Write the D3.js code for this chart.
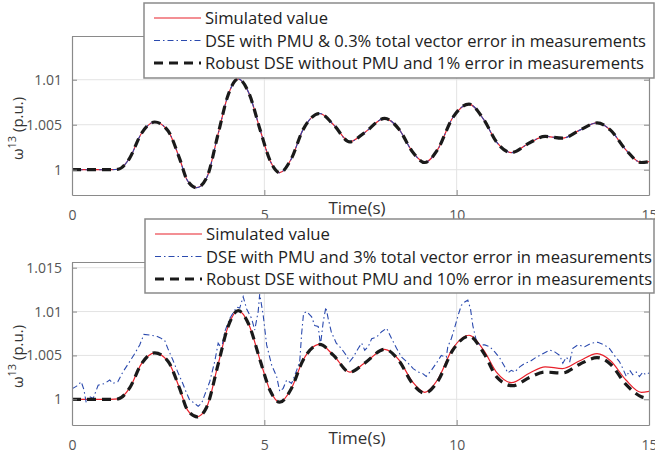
<!DOCTYPE html>
<html>
<head>
<meta charset="utf-8">
<script src="https://cdn.jsdelivr.net/npm/d3@7"></script>
<style>
  body { margin: 0; background: #fff; }
  text { font-family: "Open Sans", "Noto Sans", sans-serif; }
</style>
</head>
<body>
<svg id="chart" width="655" height="457"></svg>
<script>
// simulated rotor speed of generator 13 (same in both panels)
const simulated = [
  [0, 1.0], [0.5, 1.0], [1.0, 1.0], [1.2, 1.00005], [1.5, 1.0013], [1.8, 1.004],
  [2.15, 1.0053], [2.5, 1.0043], [2.8, 1.0012], [3.0, 0.9988], [3.24, 0.998],
  [3.5, 0.9991], [3.8, 1.004], [4.05, 1.0082], [4.32, 1.0101], [4.6, 1.0085],
  [4.9, 1.0043], [5.15, 1.001], [5.4, 0.99967], [5.7, 1.0012], [6.0, 1.0044],
  [6.44, 1.00625], [6.8, 1.005], [7.22, 1.0031], [7.6, 1.0041], [8.13, 1.0057],
  [8.5, 1.0045], [8.85, 1.002], [9.17, 1.0008], [9.5, 1.0022], [9.9, 1.0058],
  [10.32, 1.0073], [10.7, 1.0056], [11.05, 1.003], [11.42, 1.0019], [11.9, 1.003],
  [12.3, 1.0037], [12.75, 1.0035], [13.2, 1.0044], [13.65, 1.0052], [14.0, 1.0044],
  [14.4, 1.0022], [14.8, 1.0008], [15, 1.0009]
];

// top panel estimates follow the simulated curve
const dsePmuTop = simulated.map(d => [d[0], d[1]]);
const robustTop = simulated.map(d => [d[0], d[1]]);

// bottom panel: DSE with PMU and 3% TVE
const dsePmuBottom = [
  [0, 1.0012], [0.12, 1.0015], [0.24, 1.002], [0.31, 1.0011], [0.37, 0.9996], [0.46, 1.0003],
  [0.55, 1.0001], [0.68, 1.0016], [0.85, 1.0018], [0.98, 1.0022], [1.06, 1.0018], [1.19, 1.002],
  [1.32, 1.0031], [1.5, 1.0043], [1.63, 1.0052], [1.76, 1.0062], [1.87, 1.0074], [2.06, 1.0073],
  [2.19, 1.0072], [2.3, 1.007], [2.41, 1.0067], [2.49, 1.0058], [2.62, 1.0045], [2.75, 1.0031],
  [2.88, 1.0018], [2.97, 1.0008], [3.06, 0.9999], [3.17, 0.9996], [3.28, 0.9992], [3.37, 0.99955],
  [3.45, 1.0005], [3.58, 1.002], [3.71, 1.0043], [3.8, 1.0064], [3.89, 1.0058], [3.97, 1.0077],
  [4.1, 1.0092], [4.28, 1.0105], [4.36, 1.0104], [4.45, 1.0117], [4.54, 1.0103], [4.67, 1.0092],
  [4.75, 1.0079], [4.84, 1.01], [4.88, 1.012], [4.97, 1.0096], [5.06, 1.0062], [5.19, 1.0039],
  [5.32, 1.0026], [5.4, 1.0009], [5.49, 1.00125], [5.58, 1.0022], [5.71, 1.0018], [5.84, 1.0033],
  [5.92, 1.0043], [5.97, 1.0075], [6.02, 1.0098], [6.1, 1.01], [6.23, 1.0094], [6.31, 1.0084],
  [6.4, 1.0083], [6.46, 1.0062], [6.53, 1.0088], [6.6, 1.0105], [6.66, 1.0092], [6.74, 1.0077],
  [6.87, 1.0064], [7.0, 1.0058], [7.13, 1.005], [7.22, 1.0043], [7.31, 1.0048], [7.44, 1.0058],
  [7.53, 1.0064], [7.61, 1.0056], [7.7, 1.006], [7.79, 1.0069], [7.92, 1.0071], [8.05, 1.0077],
  [8.18, 1.0081], [8.31, 1.0069], [8.44, 1.0058], [8.57, 1.0048], [8.7, 1.0043], [8.87, 1.0035],
  [9.0, 1.0031], [9.1, 1.003], [9.21, 1.0026], [9.34, 1.0033], [9.47, 1.0041], [9.6, 1.005],
  [9.73, 1.0048], [9.77, 1.006], [9.86, 1.0069], [9.95, 1.0082], [10.04, 1.0096], [10.12, 1.0107],
  [10.21, 1.0111], [10.29, 1.0113], [10.36, 1.0103], [10.42, 1.0084], [10.51, 1.0067], [10.6, 1.0062],
  [10.73, 1.0062], [10.86, 1.006], [10.99, 1.0054], [11.12, 1.0047], [11.25, 1.0037], [11.33, 1.003],
  [11.42, 1.0033], [11.51, 1.0031], [11.64, 1.0037], [11.77, 1.0041], [11.9, 1.0043], [12.07, 1.0048],
  [12.24, 1.0052], [12.42, 1.0056], [12.55, 1.0054], [12.68, 1.005], [12.76, 1.0041], [12.85, 1.0048],
  [12.94, 1.0043], [13.02, 1.0058], [13.15, 1.0062], [13.33, 1.006], [13.5, 1.0064], [13.67, 1.0065],
  [13.84, 1.0062], [13.97, 1.0058], [14.1, 1.005], [14.23, 1.0043], [14.32, 1.0035], [14.41, 1.0026],
  [14.5, 1.0033], [14.58, 1.0028], [14.67, 1.0031], [14.75, 1.0026], [14.84, 1.0031], [14.91, 1.0028],
  [15, 1.003]
];

// bottom panel: robust DSE without PMU, 10% error
const robustBottom = [
  [0, 1.0], [0.5, 1.0], [1.0, 1.0], [1.2, 1.00005], [1.5, 1.0013], [1.8, 1.004],
  [2.15, 1.0053], [2.5, 1.0043], [2.8, 1.0012], [3.0, 0.9988], [3.26, 0.998],
  [3.5, 0.9991], [3.8, 1.004], [4.05, 1.0082], [4.32, 1.0101], [4.6, 1.0085],
  [4.9, 1.0043], [5.15, 1.001], [5.4, 0.99967], [5.7, 1.0012], [6.0, 1.0044],
  [6.44, 1.00625], [6.8, 1.005], [7.22, 1.0031], [7.6, 1.0041], [8.13, 1.0057],
  [8.5, 1.0044], [8.85, 1.0018], [9.17, 1.0007], [9.5, 1.002], [9.9, 1.0056],
  [10.32, 1.0072], [10.7, 1.0053], [11.05, 1.0025], [11.45, 1.00155], [11.9, 1.0025],
  [12.3, 1.0031], [12.75, 1.003], [13.2, 1.004], [13.65, 1.00475], [14.0, 1.004],
  [14.4, 1.0017], [14.8, 1.0003], [15, 1.0001]
];

const xTicks = [0, 5, 10, 15];
const topYTicks = [1, 1.005, 1.01];
const bottomYTicks = [1, 1.005, 1.01, 1.015];
const topLegend = [
  "Simulated value",
  "DSE with PMU & 0.3% total vector error in measurements",
  "Robust DSE without PMU and 1% error in measurements"
];
const bottomLegend = [
  "Simulated value",
  "DSE with PMU and 3% total vector error in measurements",
  "Robust DSE without PMU and 10% error in measurements"
];

const svg = d3.select("#chart");
const left = 72, right = 649;
const x = d3.scaleLinear().domain([0, 15]).range([left, right]);

const styles = [
  { color: "#e8202a", width: 1.2, dash: null },
  { color: "#2b4aae", width: 1.1, dash: "6,3,1.5,3" },
  { color: "#1a1a1a", width: 3.2, dash: "9,6" }
];

function drawPanel(id, top, bottom, yDomain, yTicks, series, curves, legend, box) {
  const y = d3.scaleLinear().domain(yDomain).range([bottom, top]);
  const g = svg.append("g");

  // grid
  g.selectAll(".gx").data(xTicks.slice(1, -1)).join("line")
    .attr("x1", d => x(d)).attr("x2", d => x(d))
    .attr("y1", top).attr("y2", bottom)
    .attr("stroke", "#e3e3e3").attr("stroke-width", 1);
  g.selectAll(".gy").data(yTicks).join("line")
    .attr("x1", left).attr("x2", right)
    .attr("y1", d => y(d)).attr("y2", d => y(d))
    .attr("stroke", "#e3e3e3").attr("stroke-width", 1);

  // lines
  svg.append("clipPath").attr("id", "clip" + id)
    .append("rect").attr("x", left).attr("y", top)
    .attr("width", right - left).attr("height", bottom - top);
  const lines = g.append("g").attr("clip-path", `url(#clip${id})`);
  series.forEach((s, i) => {
    const line = d3.line().x(d => x(d[0])).y(d => y(d[1])).curve(curves[i]);
    lines.append("path").datum(s)
      .attr("fill", "none")
      .attr("stroke", styles[i].color)
      .attr("stroke-width", styles[i].width)
      .attr("stroke-dasharray", styles[i].dash)
      .attr("d", line);
  });

  // axes (MATLAB style, ticks inward, box on)
  const axisColor = "#8a8a8a";
  const xb = g.append("g").attr("transform", `translate(0,${bottom})`)
    .call(d3.axisBottom(x).tickValues(xTicks).tickSizeInner(-5).tickSizeOuter(0).tickPadding(15));
  const xt = g.append("g").attr("transform", `translate(0,${top})`)
    .call(d3.axisTop(x).tickValues(xTicks).tickSizeInner(-5).tickSizeOuter(0).tickFormat(""));
  const yl = g.append("g").attr("transform", `translate(${left},0)`)
    .call(d3.axisLeft(y).tickValues(yTicks).tickSizeInner(-5).tickSizeOuter(0).tickPadding(10)
      .tickFormat(d3.format("~g")));
  const yr = g.append("g").attr("transform", `translate(${right},0)`)
    .call(d3.axisRight(y).tickValues(yTicks).tickSizeInner(-5).tickSizeOuter(0).tickFormat(""));
  [xb, xt, yl, yr].forEach(a => {
    a.select(".domain").attr("stroke", axisColor).attr("stroke-width", 1.2);
    a.selectAll(".tick line").attr("stroke", axisColor);
    a.selectAll("text").attr("fill", "#555").style("font-size", "14px")
      .style("font-family", '"Open Sans", sans-serif');
  });

  // x label
  g.append("text").attr("x", 357).attr("y", bottom + 19)
    .attr("text-anchor", "middle").attr("fill", "#333")
    .style("font-size", "17px").text("Time(s)");

  // y label
  const yl2 = g.append("text")
    .attr("transform", `translate(23,${(top + bottom) / 2 + 13}) rotate(-90)`)
    .attr("text-anchor", "middle").attr("fill", "#333").style("font-size", "15px");
  yl2.append("tspan").text("ω");
  yl2.append("tspan").attr("dy", -7).style("font-size", "11px").text("13");
  yl2.append("tspan").attr("dy", 7).text(" (p.u.)");

  // legend
  const lg = svg.append("g");
  lg.append("rect").attr("x", box.x).attr("y", box.y)
    .attr("width", box.w).attr("height", box.h)
    .attr("fill", "#fff").attr("stroke", "#8a8a8a").attr("stroke-width", 1.5);
  legend.forEach((label, i) => {
    const ry = box.y + 15 + i * 22.5;
    lg.append("line").attr("x1", box.x + 10).attr("x2", box.x + 57)
      .attr("y1", ry).attr("y2", ry)
      .attr("stroke", styles[i].color)
      .attr("stroke-width", styles[i].width)
      .attr("stroke-dasharray", styles[i].dash);
    const t = lg.append("text").attr("x", box.x + 61).attr("y", ry + 6)
      .attr("fill", "#222").style("font-size", "17px").text(label);
    t.attr("textLength", box.widths[i]).attr("lengthAdjust", "spacingAndGlyphs");
  });
}

drawPanel("top", 36, 195, [0.99719, 1.01486], topYTicks,
  [simulated, dsePmuTop, robustTop],
  [d3.curveMonotoneX, d3.curveMonotoneX, d3.curveMonotoneX],
  topLegend, { x: 144, y: 3, w: 510, h: 75, widths: [123, 441, 439] });

drawPanel("bottom", 262, 425, [0.99707, 1.01565], bottomYTicks,
  [simulated, dsePmuBottom, robustBottom],
  [d3.curveMonotoneX, d3.curveLinear, d3.curveMonotoneX],
  bottomLegend, { x: 145, y: 219, w: 509, h: 74, widths: [124, 446, 446] });
</script>
</body>
</html>
